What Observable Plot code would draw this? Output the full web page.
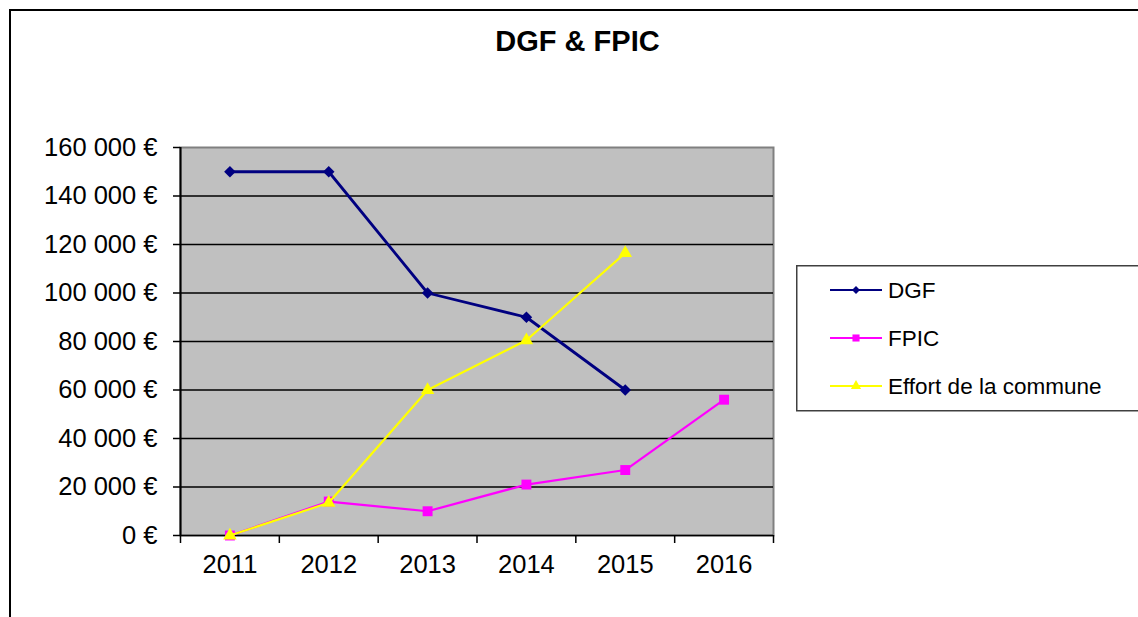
<!DOCTYPE html>
<html>
<head>
<meta charset="utf-8">
<script src="https://cdn.jsdelivr.net/npm/d3@7"></script>
<script src="https://cdn.jsdelivr.net/npm/@observablehq/plot@0.6"></script>
<style>
html, body { margin:0; padding:0; background:#fff; overflow:hidden; width:1138px; height:617px; }
#wrap { position:relative; width:1138px; height:617px; font-family:"Liberation Sans", Arial, sans-serif; }
#border { position:absolute; left:9px; top:9px; width:1300px; height:800px; border-left:2px solid #000; border-top:2px solid #000; box-sizing:border-box; }
#title { position:absolute; left:0; top:27px; width:1155px; text-align:center; font-size:29px; line-height:29px; font-weight:bold; color:#000; }
#chart { position:absolute; left:0; top:0; }
#legend { position:absolute; left:796px; top:265px; }
</style>
</head>
<body>
<div id="wrap">
  <div id="border"></div>
  <div id="chart"></div>
  <div id="title">DGF &amp; FPIC</div>
  <div id="legend"></div>
</div>
<script>
// ---- data ----
const years = [2011, 2012, 2013, 2014, 2015, 2016];
const dgf    = [150000, 150000, 100000, 90000, 60000, null];
const fpic   = [0, 14000, 10000, 21000, 27000, 56000];
const effort = [0, 13500, 60000, 80500, 116500, null];
const seriesNames = ["DGF", "FPIC", "Effort de la commune"];
const yTicks = [0, 20000, 40000, 60000, 80000, 100000, 120000, 140000, 160000];

const seriesColors = ["#000080", "#ff00ff", "#ffff00"];
const seriesSymbols = ["diamond2", "square", "triangle"];
const seriesValues = [dgf, fpic, effort];

const rows = vals => years.map((y, i) => ({year: y, value: vals[i]})).filter(d => d.value != null);
const fmtEuro = d => d3.format(",")(d).replace(/,/g, "\u00a0") + "\u00a0€";
const bounds = years.map(y => y - 0.5).concat([years[years.length - 1] + 0.5]);

const seriesMarks = [];
seriesValues.forEach((vals, i) => {
  const data = rows(vals);
  seriesMarks.push(Plot.line(data, {x: "year", y: "value", stroke: seriesColors[i], strokeWidth: i === 0 ? 2.8 : 2.2}));
  seriesMarks.push(Plot.dot(data, {x: "year", y: "value", symbol: seriesSymbols[i], r: i === 0 ? 5.2 : (i === 1 ? 5.6 : 5), fill: seriesColors[i], stroke: "none"}));
});

const chart = Plot.plot({
  width: 1138,
  height: 617,
  marginLeft: 180,
  marginRight: 365,
  marginTop: 147,
  marginBottom: 82,
  x: {domain: [bounds[0], bounds[bounds.length - 1]]},
  y: {domain: [0, 160000]},
  style: {fontFamily: '"Liberation Sans", Arial, sans-serif', color: "#000", background: "transparent", overflow: "visible"},
  marks: [
    Plot.frame({fill: "#c0c0c0", stroke: "#808080", strokeWidth: 2}),
    Plot.ruleY(yTicks.slice(0, -1), {stroke: "#000", strokeWidth: 1.5}),
    Plot.ruleX([bounds[0]], {stroke: "#000", strokeWidth: 2}),
    Plot.axisY({ticks: yTicks, tickSize: 7, tickPadding: 16, tickFormat: fmtEuro, fontSize: 25.5, strokeWidth: 1.5, label: null}),
    Plot.axisX({ticks: bounds, tickSize: 8, tickFormat: () => "", strokeWidth: 1.5, label: null}),
    Plot.axisX({ticks: years, tickSize: 0, tickPadding: 19, tickFormat: d => String(d), fontSize: 25.5, label: null}),
    ...seriesMarks
  ]
});
document.getElementById("chart").appendChild(chart);

// ---- legend ----
const lg = d3.select("#legend").append("svg").attr("width", 400).attr("height", 148);
lg.append("rect").attr("x", 0.75).attr("y", 0.75).attr("width", 420).attr("height", 145)
  .attr("fill", "#fff").attr("stroke", "#404040").attr("stroke-width", 1.5);
const legendSymbols = [d3.symbolDiamond2, d3.symbolSquare, d3.symbolTriangle];
const legendSizes = [40, 50, 45];
seriesNames.forEach((name, i) => {
  const cy = 25 + i * 48;
  lg.append("line").attr("x1", 34).attr("x2", 86).attr("y1", cy).attr("y2", cy)
    .attr("stroke", seriesColors[i]).attr("stroke-width", 2);
  lg.append("path").attr("d", d3.symbol().type(legendSymbols[i]).size(legendSizes[i])())
    .attr("transform", `translate(60,${cy})`).attr("fill", seriesColors[i]);
  lg.append("text").attr("x", 92).attr("y", cy + 8).text(name)
    .attr("font-family", '"Liberation Sans", Arial, sans-serif').attr("font-size", 22.5).attr("fill", "#000");
});
</script>
</body>
</html>
